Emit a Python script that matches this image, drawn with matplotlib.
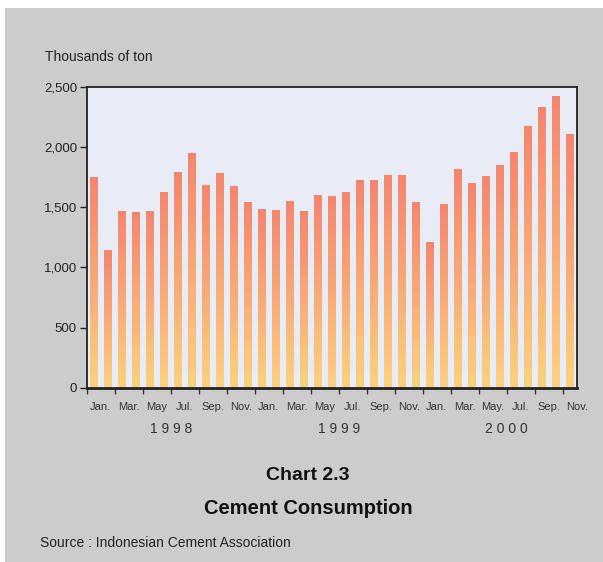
import numpy as np
import matplotlib
matplotlib.use("Agg")
import matplotlib.pyplot as plt
from matplotlib.patches import Rectangle
from matplotlib.colors import LinearSegmentedColormap
from matplotlib.ticker import FuncFormatter

plt.rcParams['font.family'] = ['Liberation Sans', 'DejaVu Sans']

# consumo mensual de cemento, Ene 1998 - Nov 2000 (miles de ton)
valores = [1747, 1142, 1465, 1457, 1465, 1623, 1789, 1946, 1681, 1780, 1672, 1540,
           1482, 1474, 1548, 1465, 1598, 1590, 1623, 1722, 1722, 1764, 1764, 1540,
           1208, 1523, 1813, 1697, 1755, 1847, 1954, 2170, 2328, 2419, 2104]
meses = ["Jan.", "Mar.", "May", "Jul.", "Sep.", "Nov.",
         "Jan.", "Mar.", "May", "Jul.", "Sep.", "Nov.",
         "Jan.", "Mar.", "May.", "Jul.", "Sep.", "Nov."]
anios = ["1 9 9 8", "1 9 9 9", "2 0 0 0"]
yticks = [0, 500, 1000, 1500, 2000, 2500]

fig = plt.figure(figsize=(6.03, 5.62), dpi=100, facecolor="white")
fig.patches.append(Rectangle((5 / 603, 0), 1, 1 - 8 / 562, transform=fig.transFigure,
                             facecolor="#cccccc", edgecolor="none", zorder=-10))

ax = fig.add_axes([0.1438, 0.3101, 0.8126, 0.5356])
ax.set_facecolor("#e8ecf6")

x = np.arange(len(valores))
barras = ax.bar(x, valores, width=0.53, color="none", edgecolor="none", zorder=2)

cmap = LinearSegmentedColormap.from_list("grad", ["#ffd27f", "#f8aa78", "#f4866f"])
grad = np.linspace(0, 1, 256).reshape(-1, 1)
for b in barras:
    bx, by = b.get_x(), b.get_y()
    ax.imshow(grad, cmap=cmap, origin="lower", aspect="auto", zorder=2,
              extent=[bx, bx + b.get_width(), by, by + b.get_height()])

ax.set_xlim(-0.5, len(valores) - 0.5)
ax.set_ylim(0, 2500)

ax.set_yticks(yticks)
ax.yaxis.set_major_formatter(FuncFormatter(lambda v, p: "{:,.0f}".format(v)))
ax.tick_params(axis="y", direction="out", length=5, width=1, color="#222222",
               labelsize=9.5, labelcolor="#222222", pad=2)

ax.set_xticks(np.arange(-0.5, len(valores) - 1, 2))
ax.set_xticklabels([])
ax.tick_params(axis="x", which="major", direction="out", length=4, width=1, color="#333333")
ax.set_xticks(np.arange(0.5, 0.5 + 2 * len(meses), 2), minor=True)
ax.set_xticklabels(meses, minor=True)
ax.tick_params(axis="x", which="minor", length=0, labelsize=8, labelcolor="#333333", pad=10)

for i, a in enumerate(anios):
    ax.text(5.5 + 12 * i, -0.136, a, transform=ax.get_xaxis_transform(),
            ha="center", va="center", fontsize=10, color="#333333")

for s in ax.spines.values():
    s.set_color("#222222")
    s.set_linewidth(1.3)
ax.spines["bottom"].set_linewidth(2)

fig.text(45 / 603, 1 - 57 / 562, "Thousands of ton", fontsize=10, color="#222222",
         ha="left", va="center")
fig.text(308 / 603, 1 - 475 / 562, "Chart 2.3", fontsize=14, fontweight="bold",
         ha="center", va="center", color="#111111")
fig.text(308 / 603, 1 - 508 / 562, "Cement Consumption", fontsize=14.5, fontweight="bold",
         ha="center", va="center", color="#111111")
fig.text(40 / 603, 1 - 543 / 562, "Source : Indonesian Cement Association", fontsize=10,
         ha="left", va="center", color="#222222")

fig.savefig("out.png", dpi=100, facecolor=fig.get_facecolor())
